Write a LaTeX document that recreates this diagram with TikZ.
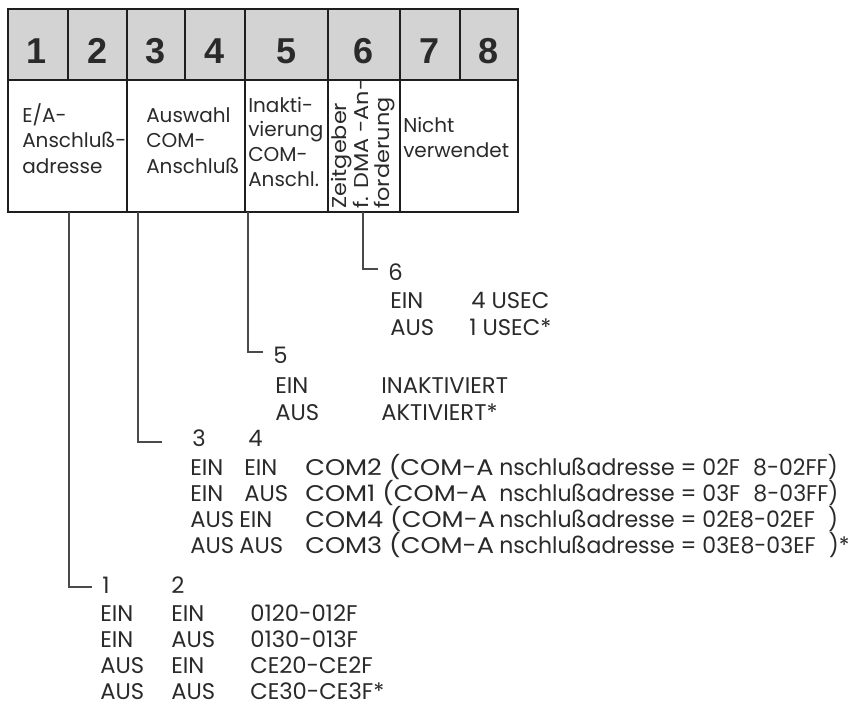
\documentclass[tikz,border=0pt]{standalone}
\usepackage{fontspec}
\usepackage{graphicx}
\setmainfont{Poppins}
\newfontfamily\digitfont{Liberation Sans}
\definecolor{hdr}{HTML}{D3D3D3}
\definecolor{txt}{HTML}{2A2A2A}
\definecolor{connc}{HTML}{4A4A4A}
\definecolor{framec}{HTML}{1E1E1E}
\begin{document}
\begin{tikzpicture}[x=0.75pt,y=-0.75pt,
  cell/.style={font=\fontsize{15}{18}\selectfont, text=txt, inner sep=0pt, anchor=base west},
  lst/.style={font=\fontsize{17}{20}\selectfont, text=txt, inner sep=0pt, anchor=base west},
  dig/.style={font=\digitfont\bfseries\fontsize{27}{30}\selectfont, text=txt, inner sep=0pt, anchor=base},
  rot/.style={cell, rotate=90},
  frame/.style={draw=framec, line width=1.5pt},
  divider/.style={draw=framec, line width=1pt},
  conn/.style={draw=connc, line width=1pt}]
\useasboundingbox (0,0) rectangle (851,711);

% table
\fill[hdr] (8,9) rectangle (518,80);
\foreach \x in {68,127,185,245,328,400,460} \draw[divider] (\x,9) -- (\x,80);
\foreach \x in {127,245,328,400} \draw[divider] (\x,80) -- (\x,212);
\draw[frame] (8,80) -- (518,80);
\draw[frame] (8,9) rectangle (518,212);

% header digits
\node[dig] (h1) at (37,63) {1};
\node[dig] (h2) at (97.5,63) {2};
\node[dig] (h3) at (156,63) {3};
\node[dig] (h4) at (215,63) {4};
\node[dig] (h5) at (286.5,63) {5};
\node[dig] (h6) at (364,63) {6};
\node[dig] (h7) at (430,63) {7};
\node[dig] (h8) at (489,63) {8};

% cell texts
\node[cell] (ta1) at (22,122) {E/A-};
\node[cell] (ta2) at (22,147) {Anschluß-};
\node[cell] (ta3) at (22,173) {adresse};
\node[cell] (tb1) at (146,122) {Auswahl};
\node[cell] (tb2) at (146,147) {COM-};
\node[cell] (tb3) at (146,173) {Anschluß};
\node[cell] (tc1) at (248,112) {Inakti-};
\node[cell] (tc2) at (248,136) {vierung};
\node[cell] (tc3) at (248,161) {COM-};
\node[cell] (tc4) at (248,186) {Anschl.};
\node[rot] (td1) at (346,209) {\scalebox{1.12}[1]{Zeitgeber}};
\node[rot] (td2) at (368,209) {\scalebox{1.12}[1]{f. DMA -An-}};
\node[rot] (td3) at (389,209) {\scalebox{1.12}[1]{forderung}};
\node[cell] (te1) at (403,132) {Nicht};
\node[cell] (te2) at (403,157) {verwendet};

% connector anchors
\coordinate (s1) at (69,212);
\coordinate (s3) at (138,212);
\coordinate (s5) at (248,212);
\coordinate (s6) at (363,212);
\coordinate (e1) at (92,587);
\coordinate (e3) at (162,442);
\coordinate (e5) at (263,352);
\coordinate (e6) at (378,269);
\draw[conn] (s6) |- (e6);
\draw[conn] (s5) |- (e5);
\draw[conn] (s3) |- (e3);
\draw[conn] (s1) |- (e1);

% section 6
\node[lst] (l6) at (388,280) {6};
\node[lst] (l6a) at (390,308) {EIN};
\node[lst] (l6b) at (471,308) {4 USEC};
\node[lst] (l6c) at (390,335) {AUS};
\node[lst] (l6d) at (469,335) {1 USEC*};

% section 5
\node[lst] (l5) at (273,363) {5};
\node[lst] (l5a) at (275,393) {EIN};
\node[lst] (l5b) at (381,393) {INAKTIVIERT};
\node[lst] (l5c) at (275,420) {AUS};
\node[lst] (l5d) at (381,420) {AKTIVIERT*};

% section 3/4
\node[lst] (l3) at (192,446) {3};
\node[lst] (l4) at (248,446) {4};
\node[lst] (r1a) at (190,475) {EIN};
\node[lst] (r1b) at (244,475) {EIN};
\node[lst] (r1c) at (305,475) {\scalebox{1.13}[1]{COM2 (COM-A}};
\node[lst] (r1d) at (499,475) {\scalebox{0.97}[1]{nschlußadresse = 02F\hspace{0.6em}8-02FF)}};
\node[lst] (r2a) at (190,501) {EIN};
\node[lst] (r2b) at (244,501) {AUS};
\node[lst] (r2c) at (305,501) {\scalebox{1.13}[1]{COM1 (COM-A}};
\node[lst] (r2d) at (499,501) {\scalebox{0.97}[1]{nschlußadresse = 03F\hspace{0.6em}8-03FF)}};
\node[lst] (r3a) at (190,527) {AUS};
\node[lst] (r3b) at (239,527) {EIN};
\node[lst] (r3c) at (305,527) {\scalebox{1.13}[1]{COM4 (COM-A}};
\node[lst] (r3d) at (499,527) {\scalebox{0.97}[1]{nschlußadresse = 02E8-02EF\hspace{0.6em})}};
\node[lst] (r4a) at (190,553) {AUS};
\node[lst] (r4b) at (239,553) {AUS};
\node[lst] (r4c) at (305,553) {\scalebox{1.13}[1]{COM3 (COM-A}};
\node[lst] (r4d) at (499,553) {\scalebox{0.97}[1]{nschlußadresse = 03E8-03EF\hspace{0.6em})*}};

% section 1/2
\node[lst] (l1) at (102,593) {1};
\node[lst] (l2) at (171,593) {2};
\node[lst] (q1a) at (100,621) {EIN};
\node[lst] (q1b) at (171,621) {EIN};
\node[lst] (q1c) at (250,621) {0120-012F};
\node[lst] (q2a) at (100,647) {EIN};
\node[lst] (q2b) at (171,647) {AUS};
\node[lst] (q2c) at (250,647) {0130-013F};
\node[lst] (q3a) at (100,673) {AUS};
\node[lst] (q3b) at (171,673) {EIN};
\node[lst] (q3c) at (250,673) {CE20-CE2F};
\node[lst] (q4a) at (100,699) {AUS};
\node[lst] (q4b) at (171,699) {AUS};
\node[lst] (q4c) at (250,699) {CE30-CE3F*};
\end{tikzpicture}
\end{document}
